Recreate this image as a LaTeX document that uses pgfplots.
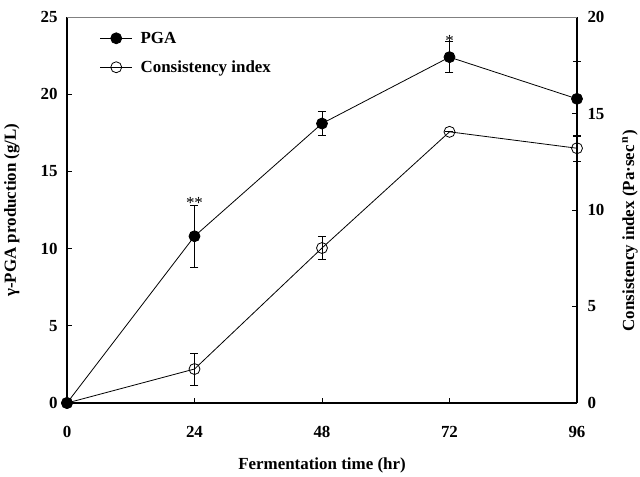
\documentclass[border=0pt]{standalone}
\usepackage{fontspec}
\setmainfont{Liberation Serif}
\usepackage{pgfplots}
\pgfplotsset{compat=1.18}
\newcommand{\lf}{\fontsize{17}{20}\selectfont\bfseries}
\pgfplotsset{
  common/.style={
    at={(0,0)}, anchor=south west,
    width=510bp, height=386bp, scale only axis,
    xmin=0, xmax=96, clip=false,
    /pgf/number format/assume math mode=true,
    tick align=inside, major tick length=5bp,
    tick style={line width=0.8bp, black},
    axis line style={line width=1.2bp},
    tick label style={font=\lf},
  }
}
\begin{document}
\begin{tikzpicture}
\useasboundingbox (-67bp,-74bp) rectangle (573bp,403bp);
\begin{axis}[common,
  ymin=0, ymax=25, ytick={0,5,10,15,20,25},
  xtick={0,24,48,72,96},
  axis x line*=bottom, axis y line*=left,
  xticklabel style={yshift=-20bp},
  yticklabel style={xshift=-6bp},
  xlabel={Fermentation time (hr)},
  every axis x label/.style={at={(axis description cs:0.5,-0.163)}, anchor=center, font=\lf},
  every axis y label/.style={at={(axis description cs:-0.108,0.5)}, rotate=90, anchor=center, font=\lf},
  ylabel={γ-PGA production (g/L)},
  legend style={at={(0.064,0.967)}, anchor=north west, draw=none, fill=none, font=\lf, row sep=12bp, inner sep=0pt,
    /tikz/every odd column/.append style={column sep=6bp}},
  legend cell align=left,
  legend image code/.code={\draw[mark repeat=2,mark phase=2,#1] plot coordinates {(0bp,0bp) (16bp,0bp) (32bp,0bp)};},
]
\addplot[black, line width=0.8bp, mark=*, mark size=5.5bp, mark options={fill=black},
  error bars/.cd, y dir=both, y explicit,
  error mark options={rotate=90, mark size=4bp, line width=0.8bp},
  error bar style={line width=0.8bp}]
  coordinates {(0,0) +- (0,0) (24,10.8) +- (0,2.0) (48,18.1) +- (0,0.8) (72,22.4) +- (0,1.0) (96,19.7) +- (0,2.45)};
\addlegendentry{PGA}
\addlegendimage{black, line width=0.8bp, mark=o, mark size=5.5bp, mark options={fill=white}}
\addlegendentry{Consistency index}
\node[anchor=base, font=\fontsize{17}{20}\selectfont, inner sep=0pt] at (axis cs:24,12.6) {**};
\node[anchor=base, font=\fontsize{17}{20}\selectfont, inner sep=0pt] at (axis cs:72,23.1) {*};
\end{axis}
\begin{axis}[common,
  ymin=0, ymax=20, ytick={0,5,10,15,20},
  axis x line=none, axis y line*=right,
  yticklabel style={xshift=7bp},
  every axis y label/.style={at={(axis description cs:1.104,0.446)}, rotate=90, anchor=center, font=\lf},
  ylabel={Consistency index (Pa·sec\textsuperscript{\,n})},
  after end axis/.code={\draw[gray, line width=0.8bp] (rel axis cs:0,1) -- (rel axis cs:1,1);},
]
\addplot[black, line width=0.8bp, mark=o, mark size=5.5bp, mark options={fill=white},
  error bars/.cd, y dir=both, y explicit,
  error mark options={rotate=90, mark size=4bp, line width=0.8bp},
  error bar style={line width=0.8bp}]
  coordinates {(0,0) +- (0,0) (24,1.76) +- (0,0.83) (48,8.03) +- (0,0.6) (72,14.05) +- (0,0) (96,13.2) +- (0,0.68)};
\end{axis}
\end{tikzpicture}
\end{document}
